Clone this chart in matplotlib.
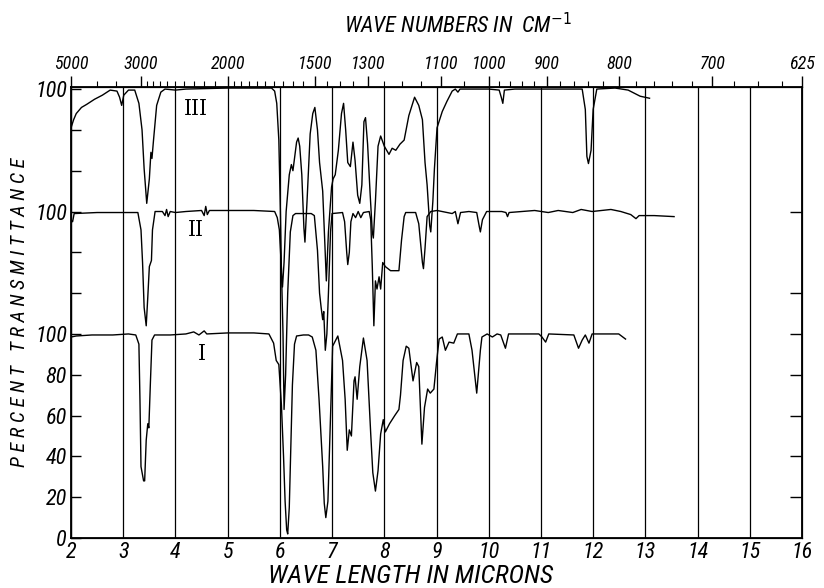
import matplotlib
matplotlib.use("Agg")
import matplotlib.pyplot as plt
from matplotlib import font_manager
import numpy as np

_names = {f.name for f in font_manager.fontManager.ttflist}
_cands = ['Liberation Sans Narrow', 'Roboto Condensed', 'Open Sans Condensed', 'DejaVu Sans']
FAM = [c for c in _cands if c in _names] or ['DejaVu Sans']
plt.rcParams['font.family'] = FAM + ['DejaVu Sans']
plt.rcParams['font.stretch'] = 'condensed'

# ---------------- data ----------------
TRACE_I_UM = [2.00, 2.10, 2.40, 2.80, 3.10, 3.24, 3.30, 3.32, 3.34, 3.39, 3.41, 3.44, 3.47, 3.49,
              3.52, 3.55, 3.60, 3.90, 4.20, 4.35, 4.45, 4.55, 4.60, 5.00, 5.50, 5.79, 5.88, 5.93,
              5.98, 6.03, 6.07, 6.10, 6.13, 6.15, 6.18, 6.21, 6.24, 6.28, 6.32, 6.45, 6.55, 6.62,
              6.69, 6.75, 6.82, 6.85, 6.88, 6.92, 6.98, 7.01, 7.11, 7.20, 7.25, 7.29, 7.33, 7.37,
              7.42, 7.44, 7.48, 7.53, 7.60, 7.67, 7.74, 7.78, 7.83, 7.88, 7.93, 7.98, 8.02, 8.10,
              8.20, 8.28, 8.31, 8.36, 8.42, 8.47, 8.55, 8.62, 8.66, 8.72, 8.77, 8.83, 8.88, 8.95,
              9.00, 9.05, 9.11, 9.17, 9.24, 9.33, 9.40, 9.62, 9.68, 9.77, 9.84, 9.87, 9.97, 10.07,
              10.16, 10.23, 10.32, 10.38, 10.96, 11.02, 11.09, 11.15, 11.63, 11.72, 11.79, 11.85,
              11.92, 11.98, 12.49, 12.62]
TRACE_I_T = [98.5, 99, 99.5, 99.5, 100, 99.5, 95, 68, 35, 28, 28, 48, 56, 54,
             76, 97, 99.5, 99.5, 100, 101, 99.5, 101.5, 100, 100.5, 100.5, 100, 95.5, 87,
             85, 65, 40, 18, 4, 2, 15, 45, 75, 95, 99, 99.5, 99.5, 98.5,
             92, 68, 35, 17, 10, 18, 68, 94, 99, 87, 68, 43, 53, 50,
             77, 79, 68, 84, 98, 87, 51, 32, 23, 33, 51, 58, 52, 56,
             60, 63, 70, 87, 94, 93, 77, 86, 84, 46, 64, 73, 71, 73,
             86, 97.5, 98.5, 92, 96, 95.5, 100, 100, 92, 71, 92, 98.5, 100, 98.5,
             100, 99.5, 93, 100, 100, 98.5, 96, 100, 99.5, 93, 97, 99.5,
             95.5, 100, 100, 97.5]

TRACE_II_UM = [2.00, 2.03, 2.06, 2.50, 3.00, 3.28, 3.34, 3.37, 3.40, 3.44, 3.47, 3.50, 3.54, 3.56,
               3.61, 3.75, 3.80, 3.83, 3.86, 3.90, 4.00, 4.20, 4.50, 4.55, 4.58, 4.61, 4.65, 5.00,
               5.50, 5.90, 5.95, 5.99, 6.03, 6.06, 6.08, 6.11, 6.15, 6.20, 6.25, 6.30, 6.60, 6.66,
               6.72, 6.76, 6.79, 6.82, 6.84, 6.87, 6.90, 6.93, 6.97, 7.00, 7.20, 7.24, 7.28, 7.30,
               7.33, 7.36, 7.40, 7.45, 7.50, 7.55, 7.60, 7.71, 7.74, 7.77, 7.80, 7.83, 7.86, 7.90,
               7.93, 7.97, 8.02, 8.12, 8.28, 8.33, 8.38, 8.41, 8.60, 8.66, 8.73, 8.75, 8.78, 8.82,
               8.89, 9.01, 9.30, 9.36, 9.41, 9.46, 9.62, 9.77, 9.82, 9.84, 9.88, 9.96, 10.25, 10.33,
               10.36, 10.39, 10.88, 11.14, 11.33, 11.61, 11.77, 11.98, 12.34, 12.53, 12.72, 12.82,
               12.88, 13.17, 13.55]
TRACE_II_T = [96, 95, 99, 99.5, 99.5, 99.5, 91, 75, 53, 44, 58, 73, 76, 91,
              100, 100, 98, 101, 97.5, 100, 99.5, 100, 100.5, 98, 102.5, 98.5, 100.5, 100.5,
              100.5, 100, 97, 91, 72, 40, 3, 20, 60, 90, 98, 99, 99, 98,
              81, 60, 53, 47, 51, 32, 40, 60, 90, 99, 99.5, 95, 80, 74,
              80, 95, 99, 97, 100, 97, 99.5, 100, 96, 73, 44, 66, 62, 68,
              62, 75, 73, 71, 71, 86, 97.5, 99.5, 99.5, 94, 75, 72, 82, 97.5,
              100, 100.5, 99, 100, 94, 99.5, 100, 99.5, 92.5, 90, 96, 100, 100, 99.5,
              97.5, 99.5, 100.5, 99.5, 100.5, 99.5, 101, 100, 101, 100, 98.5, 96.5,
              98, 98, 97.5]

TRACE_III_UM = [2.00, 2.05, 2.10, 2.20, 2.30, 2.45, 2.60, 2.75, 2.88, 2.93, 2.97, 3.01, 3.10, 3.22,
                3.30, 3.36, 3.40, 3.45, 3.50, 3.53, 3.55, 3.58, 3.64, 3.72, 3.80, 4.00, 4.20, 5.00,
                5.50, 5.84, 5.90, 5.94, 5.98, 6.01, 6.03, 6.05, 6.08, 6.12, 6.18, 6.22, 6.25, 6.28,
                6.32, 6.35, 6.38, 6.42, 6.46, 6.48, 6.52, 6.58, 6.63, 6.67, 6.72, 6.76, 6.82, 6.86,
                6.89, 6.93, 6.99, 7.02, 7.06, 7.12, 7.18, 7.22, 7.26, 7.30, 7.35, 7.40, 7.44, 7.49,
                7.53, 7.57, 7.61, 7.64, 7.68, 7.73, 7.77, 7.79, 7.83, 7.88, 7.93, 8.00, 8.09, 8.15,
                8.22, 8.30, 8.38, 8.47, 8.58, 8.66, 8.73, 8.78, 8.82, 8.87, 8.89, 8.93, 8.96, 9.01,
                9.11, 9.20, 9.30, 9.36, 9.41, 9.45, 10.00, 10.20, 10.24, 10.27, 10.30, 10.50, 11.00,
                11.50, 11.79, 11.85, 11.88, 11.91, 11.96, 12.00, 12.07, 12.42, 12.67, 12.90, 13.08]
TRACE_III_T = [81, 85, 88, 91, 92.5, 95, 97, 99.5, 99, 96, 92, 97, 99.5, 99.5,
               93, 80, 61, 44, 56, 69, 66, 75, 92, 98.5, 100, 99.5, 100, 100.5,
               100.5, 100.5, 99, 93, 75, 40, 10, 3, 15, 40, 58, 63, 60, 66,
               74, 76, 72, 58, 32, 25, 45, 78, 88, 91, 80, 64, 50, 25,
               6, 30, 52, 56, 58, 70, 88, 93, 80, 64, 62, 74, 65, 48,
               44, 53, 84, 86, 73, 48, 30, 27, 45, 72, 77, 72, 68, 71,
               70, 73, 75, 87, 96, 92, 85, 64, 53, 33, 30, 45, 61, 81,
               89, 94, 99, 100, 98.5, 100, 100, 99.5, 96, 93, 99.5, 100, 100,
               100, 100, 90, 67, 63.5, 70, 90, 100, 100.5, 99.5, 96.5, 95.5]

TRACE_OFFSETS = [0, 60, 120]
TRACE_NAMES = ["I", "II", "III"]
NAME_POS_UM = [4.5, 4.4, 4.4]
NAME_POS_T = [90, 91, 90]

WL_TICKS = list(range(2, 17))
WN_LABELS = [5000, 3000, 2000, 1500, 1300, 1100, 1000, 900, 800, 700, 625]
WN_MINOR = ([4000, 3500] + list(range(2900, 2000, -100)) + list(range(1950, 1000, -50))
            + list(range(980, 620, -20)))
LEFT_TICK_VALUES = list(range(0, 221, 20))
LEFT_TICK_LABELS = {0: "0", 20: "20", 40: "40", 60: "60", 80: "80", 100: "100", 160: "100", 220: "100"}
RIGHT_TICK_VALUES = [20, 40, 60, 80, 100, 120, 160]

# ---------------- figure ----------------
fig = plt.figure(figsize=(8.24, 5.88), dpi=100)
ax = fig.add_axes([0.0862, 0.085, 0.8871, 0.767])

traces = [(TRACE_I_UM, TRACE_I_T), (TRACE_II_UM, TRACE_II_T), (TRACE_III_UM, TRACE_III_T)]
for (um, t), off in zip(traces, TRACE_OFFSETS):
    ax.plot(um, np.asarray(t) + off, color="black", lw=1.0, zorder=3)

for name, xu, tv, off in zip(TRACE_NAMES, NAME_POS_UM, NAME_POS_T, TRACE_OFFSETS):
    ax.text(xu, tv + off, name, family="DejaVu Serif", fontsize=16, ha="center", va="center")

ax.set_xlim(2, 16)
ax.set_ylim(0, 221)

ax.set_xticks(WL_TICKS)
ax.set_xticklabels([str(v) for v in WL_TICKS], fontsize=16, style="italic")
ax.tick_params(axis="x", length=0, pad=3)
ax.grid(axis="x", color="black", lw=0.9)
ax.grid(axis="y", visible=False)

ax.set_yticks(LEFT_TICK_VALUES)
ax.set_yticklabels([LEFT_TICK_LABELS.get(v, "") for v in LEFT_TICK_VALUES], fontsize=16, style="italic")
ax.tick_params(axis="y", direction="in", length=7, width=1, pad=3)

for s in ax.spines.values():
    s.set_linewidth(1.3)

# right ticks
axr = ax.twinx()
axr.set_ylim(ax.get_ylim())
axr.set_yticks(RIGHT_TICK_VALUES)
axr.set_yticklabels([])
axr.tick_params(axis="y", direction="in", length=9, width=1)

# top wavenumber scale
axt = ax.twiny()
axt.set_xlim(ax.get_xlim())
axt.set_xticks([1e4 / w for w in WN_LABELS])
axt.set_xticklabels([str(w) for w in WN_LABELS], fontsize=13, style="italic")
axt.set_xticks([1e4 / w for w in WN_MINOR], minor=True)
axt.tick_params(axis="x", which="major", direction="out", length=8, width=1, pad=2)
axt.tick_params(axis="x", which="minor", direction="out", length=4, width=0.8)

ax.set_xlabel("WAVE LENGTH IN MICRONS", fontsize=19, style="italic", labelpad=2)
ax.xaxis.set_label_coords(0.464, -0.057)
ax.set_ylabel("P E R C E N T   T R A N S M I T T A N C E", fontsize=14.5,
              style="italic", labelpad=4)
ax.yaxis.set_label_coords(-0.058, 0.5)
axt.set_xlabel("WAVE NUMBERS IN  CM$^{-1}$", fontsize=16, style="italic", labelpad=8)
axt.xaxis.set_label_coords(0.529, 1.12)

fig.savefig("out.png", dpi=100, facecolor="white")
